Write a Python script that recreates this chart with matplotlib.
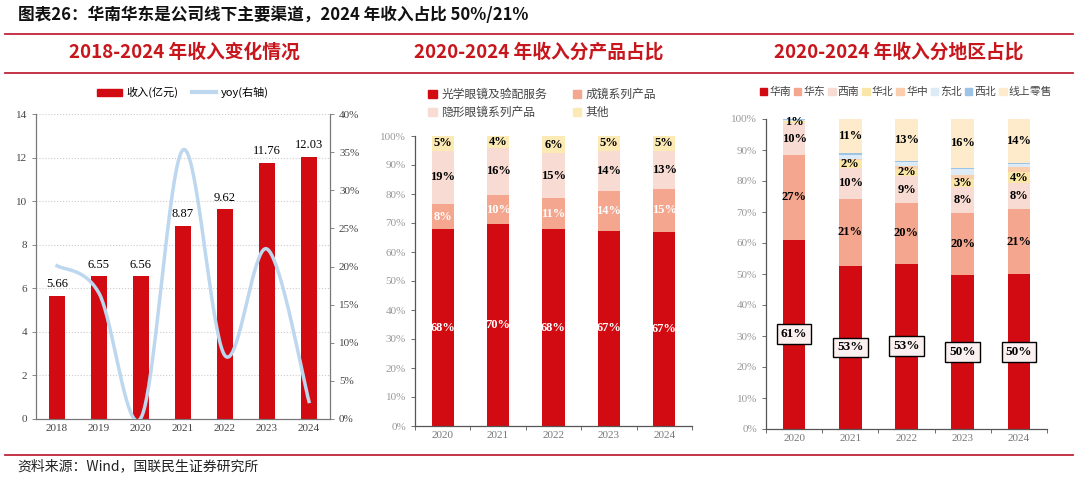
import matplotlib
matplotlib.use("Agg")
import matplotlib.pyplot as plt
import numpy as np
from matplotlib.lines import Line2D
from matplotlib.patches import Patch

CJK = ["Noto Sans CJK SC", "DejaVu Sans"]
SERIF = ["Liberation Serif", "DejaVu Serif"]
RED = "#D20A11"
LINE_RED = "#C0243A"

# panel 1: revenue and yoy
years1 = ["2018", "2019", "2020", "2021", "2022", "2023", "2024"]
revenue = [5.66, 6.55, 6.56, 8.87, 9.62, 11.76, 12.03]
yoy = [0.201, 0.165, 0.0015, 0.353, 0.083, 0.223, 0.023]

# panel 2: product mix (%)
years2 = ["2020", "2021", "2022", "2023", "2024"]
prod_names = ["光学眼镜及验配服务", "成镜系列产品", "隐形眼镜系列产品", "其他"]
prod_optical = [67.9, 69.6, 67.9, 67.3, 67.0]
prod_frames = [8.6, 10.0, 10.7, 13.7, 14.8]
prod_contact = [18.4, 16.4, 15.4, 13.9, 13.1]
prod_other = [5.1, 4.0, 6.0, 5.1, 5.1]
prod_labels = [
    ["68%", "70%", "68%", "67%", "67%"],
    ["8%", "10%", "11%", "14%", "15%"],
    ["19%", "16%", "15%", "14%", "13%"],
    ["5%", "4%", "6%", "5%", "5%"],
]
prod_colors = [RED, "#F4A68E", "#F8DCD3", "#FCEAB5"]
prod_label_colors = ["white", "white", "black", "black"]

# panel 3: region mix (%)
years3 = ["2020", "2021", "2022", "2023", "2024"]
region_names = ["华南", "华东", "西南", "华北", "华中", "东北", "西北", "线上零售"]
reg_south = [61.0, 52.6, 53.3, 49.7, 49.9]
reg_east = [27.4, 21.6, 19.6, 20.0, 21.1]
reg_southwest = [10.2, 10.1, 8.7, 8.3, 8.2]
reg_north = [0.6, 2.5, 2.4, 2.7, 3.7]
reg_central = [0.1, 0.3, 0.9, 1.3, 1.6]
reg_northeast = [0.5, 1.4, 1.3, 1.9, 1.0]
reg_northwest = [0.2, 0.4, 0.4, 0.3, 0.3]
reg_online = [0.0, 11.1, 13.4, 15.8, 14.2]
region_labels = [
    ["61%", "53%", "53%", "50%", "50%"],
    ["27%", "21%", "20%", "20%", "21%"],
    ["10%", "10%", "9%", "8%", "8%"],
    ["1%", "2%", "2%", "3%", "4%"],
    [None] * 5,
    [None] * 5,
    [None] * 5,
    [None, "11%", "13%", "16%", "14%"],
]
region_colors = [RED, "#F4A68E", "#F8DCD3", "#FAE6A6", "#FBCFAE", "#DCEBF6", "#9DC3E6", "#FDEBCC"]

source_text = "资料来源：Wind，国联民生证券研究所"
fig_title = "图表26：华南华东是公司线下主要渠道，2024 年收入占比 50%/21%"
sub_titles = ["2018-2024 年收入变化情况", "2020-2024 年收入分产品占比", "2020-2024 年收入分地区占比"]


def smooth(x, y, n=40):
    # catmull-rom style smoothing like excel's smoothed line
    x = np.asarray(x, float)
    y = np.asarray(y, float)
    px = np.concatenate([[x[0]], x, [x[-1]]])
    py = np.concatenate([[y[0]], y, [y[-1]]])
    xs, ys = [], []
    t = np.linspace(0, 1, n)
    for i in range(1, len(px) - 2):
        p0, p1, p2, p3 = (np.array([px[j], py[j]]) for j in (i - 1, i, i + 1, i + 2))
        c1 = p1 + (p2 - p0) / 6
        c2 = p2 - (p3 - p1) / 6
        b = ((1 - t) ** 3)[:, None] * p1 + (3 * (1 - t) ** 2 * t)[:, None] * c1 \
            + (3 * (1 - t) * t ** 2)[:, None] * c2 + (t ** 3)[:, None] * p2
        xs.append(b[:, 0])
        ys.append(b[:, 1])
    return np.concatenate(xs), np.concatenate(ys)


fig = plt.figure(figsize=(10.78, 4.79), dpi=100)

fig.text(18 / 1078, 1 - 15 / 479, fig_title, family=CJK, fontsize=12, fontweight="bold",
         va="center", ha="left", color="#111111")
for yy in (34, 73, 455):
    fig.add_artist(Line2D([5 / 1078, 1073 / 1078], [1 - yy / 479] * 2, color=LINE_RED, lw=1.3))
for cx, t in zip([184, 539, 899], sub_titles):
    fig.text(cx / 1078, 1 - 52 / 479, t, family=CJK, fontsize=13.5, fontweight="bold",
             color="#C8161D", ha="center", va="center")
fig.text(17 / 1078, 1 - 466 / 479, source_text, family=CJK, fontsize=10, va="center", color="#222222")

tick_kw = dict(labelsize=8, colors="#444444")

# ---- panel 1
ax1 = fig.add_axes([36 / 1078, 1 - 419 / 479, 294 / 1078, 305 / 479])
x1 = np.arange(len(years1))
ax1.bar(x1, revenue, width=0.4, color=RED, zorder=2)
for xi, v in zip(x1, revenue):
    ax1.text(xi, v + 0.25, f"{v:.2f}", ha="center", va="bottom", family=SERIF, fontsize=9)
ax1.set_ylim(0, 14)
ax1.set_yticks(range(0, 15, 2))
ax1.set_xlim(-0.5, len(years1) - 0.5)
ax1.set_xticks(x1)
ax1.set_xticklabels(years1)
ax1.grid(axis="y", color="#CCCCCC", ls=":", lw=0.8, zorder=0)
ax1b = ax1.twinx()
sx, sy = smooth(x1, yoy)
ax1b.plot(sx, sy, color="#BDD7EE", lw=2.5, zorder=3)
ax1b.set_ylim(0, 0.4)
ax1b.set_yticks(np.arange(0, 0.41, 0.05))
ax1b.set_yticklabels([f"{int(round(v * 100))}%" for v in np.arange(0, 0.41, 0.05)])
for a in (ax1, ax1b):
    a.spines["top"].set_visible(False)
    for s in ("left", "right", "bottom"):
        a.spines[s].set_color("#777777")
        a.spines[s].set_linewidth(0.8)
    a.tick_params(length=3, width=0.6, color="#777777", **tick_kw)
    for lab in a.get_yticklabels() + a.get_xticklabels():
        lab.set_family(SERIF)
ax1.tick_params(axis="x", length=0)
ax1.legend(handles=[Patch(color=RED, label="收入(亿元)"),
                    Line2D([], [], color="#BDD7EE", lw=3, label="yoy(右轴)")],
           loc="center", bbox_to_anchor=(0.5, 1.07), ncol=2, frameon=False,
           prop={"family": CJK, "size": 8}, handlelength=2.2, handleheight=0.6,
           columnspacing=1.2, handletextpad=0.4)


def stacked(ax, cats, series, labels, colors, label_colors=None, boxed_first=False):
    x = np.arange(len(cats))
    bottom = np.zeros(len(cats))
    for i, vals in enumerate(series):
        vals = np.asarray(vals, float)
        ax.bar(x, vals, bottom=bottom, width=0.4, color=colors[i], zorder=2)
        for j in range(len(cats)):
            lab = labels[i][j]
            if lab is None:
                continue
            col = label_colors[i] if label_colors else "black"
            kw = dict(ha="center", va="center", family=SERIF, fontsize=9,
                      fontweight="bold", color=col, zorder=4)
            if boxed_first and i == 0:
                kw["bbox"] = dict(boxstyle="square,pad=0.3", fc="#FAF0F0", ec="black", lw=1)
                kw["fontsize"] = 9.5
            ax.text(x[j], bottom[j] + vals[j] / 2, lab, **kw)
        bottom += vals
    ax.set_xlim(-0.5, len(cats) - 0.5)
    ax.set_ylim(0, 100)
    ax.set_yticks(range(0, 101, 10))
    ax.set_yticklabels([f"{v}%" for v in range(0, 101, 10)])
    ax.set_xticks(x)
    ax.set_xticklabels(cats)
    ax.set_xticks(np.arange(-0.5, len(cats), 1), minor=True)
    for s in ("top", "right"):
        ax.spines[s].set_visible(False)
    for s in ("left", "bottom"):
        ax.spines[s].set_color("#555555")
        ax.spines[s].set_linewidth(0.9)
    ax.tick_params(axis="y", length=3, width=0.6, color="#555555", labelsize=8, colors="#999999")
    ax.tick_params(axis="x", which="major", length=0, labelsize=8, colors="#777777")
    ax.tick_params(axis="x", which="minor", length=3, width=0.6, color="#555555")
    ax.tick_params(axis="y", labelcolor="#999999")
    for lab in ax.get_yticklabels() + ax.get_xticklabels():
        lab.set_family(SERIF)


# ---- panel 2
ax2 = fig.add_axes([415 / 1078, 1 - 426 / 479, 277 / 1078, 290 / 479])
stacked(ax2, years2, [prod_optical, prod_frames, prod_contact, prod_other], prod_labels,
        prod_colors, prod_label_colors)
leg_order = [0, 2, 1, 3]
ax2.legend(handles=[Patch(color=prod_colors[i], label=prod_names[i]) for i in leg_order],
           loc="upper left", bbox_to_anchor=(420 / 1078, 1 - 80 / 479), bbox_transform=fig.transFigure,
           ncol=2, frameon=False, prop={"family": CJK, "size": 8.5}, handlelength=0.7,
           handleheight=0.7, handletextpad=0.4, columnspacing=2.2, labelspacing=0.4,
           borderpad=0.2, labelcolor="#444444")

# ---- panel 3
ax3 = fig.add_axes([766 / 1078, 1 - 429 / 479, 281 / 1078, 310 / 479])
stacked(ax3, years3, [reg_south, reg_east, reg_southwest, reg_north, reg_central,
                      reg_northeast, reg_northwest, reg_online], region_labels, region_colors,
        boxed_first=True)
ax3.legend(handles=[Patch(color=c, label=n) for c, n in zip(region_colors, region_names)],
           loc="center left", bbox_to_anchor=(752 / 1078, 1 - 92 / 479), bbox_transform=fig.transFigure,
           ncol=8, frameon=False, prop={"family": CJK, "size": 7.8}, handlelength=0.7,
           handleheight=0.7, handletextpad=0.2, columnspacing=0.25, borderpad=0.2,
           labelcolor="#444444")

fig.savefig("out.png", dpi=100)
